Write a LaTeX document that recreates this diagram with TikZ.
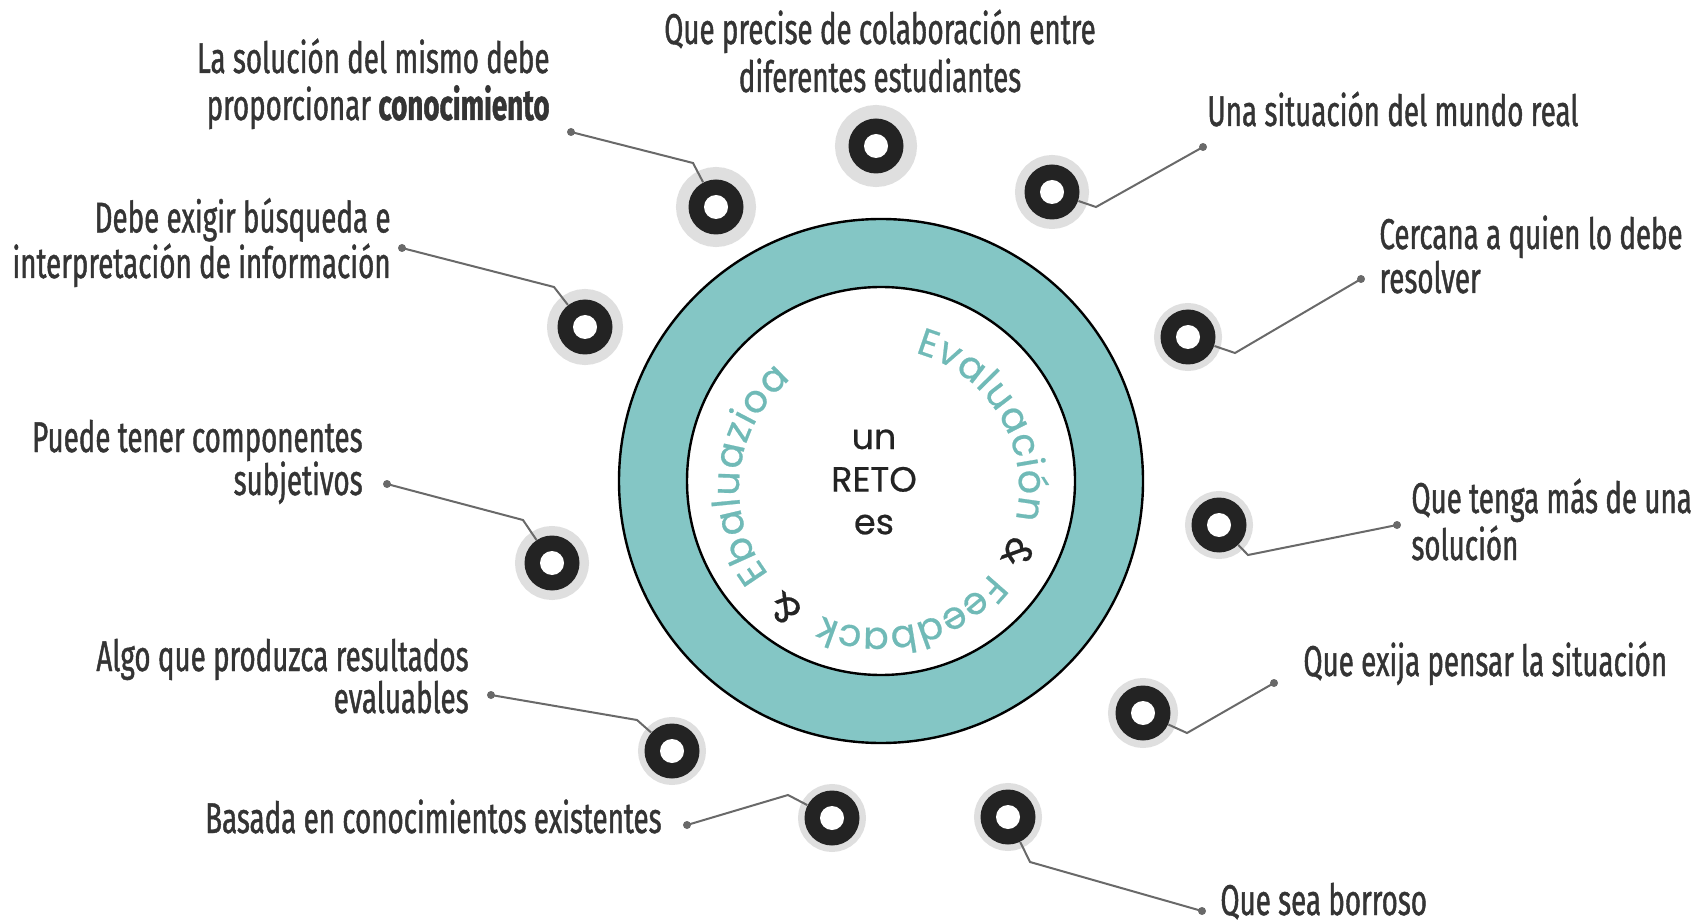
\documentclass[tikz,border=0pt]{standalone}
\usepackage{fontspec}
\setmainfont{Fira Sans}[FakeStretch=0.645, FakeBold=1]
\newfontfamily\retofont{Poppins}[FakeBold=0.6]
\usetikzlibrary{decorations.text}

\definecolor{ringteal}{RGB}{132,198,197}
\definecolor{arcteal}{RGB}{112,186,183}
\definecolor{halogray}{RGB}{223,223,223}
\definecolor{bulletdark}{RGB}{35,35,35}
\definecolor{wiregray}{RGB}{105,105,105}
\definecolor{labelgray}{RGB}{52,52,52}

\newcommand\arcfont{\retofont\fontsize{19}{22}\selectfont}

\tikzset{
  bullet/.style={circle, fill=bulletdark, minimum size=27.5pt, inner sep=0pt,
    preaction={draw=halogray, line width=#1},
    path picture={\fill[white] (path picture bounding box.center) circle (6pt);}},
  bullet/.default=6.5pt,
  wire/.style={wiregray, line width=1pt},
  lbl/.style={text=labelgray, inner sep=0pt, font=\fontsize{21.5}{#1}\selectfont},
  lbl/.default=22,
  arctext/.style={decorate, decoration={text along path, text={|\arcfont|#1},
    text align=fit to path, text color=arcteal}},
  arcamp/.style={decorate, decoration={text along path, text={|\arcfont|{\&}},
    text align=center, text color=bulletdark}}
}

\begin{document}
\begin{tikzpicture}[x=0.5pt, y=-0.5pt]
  \useasboundingbox (0,0) rectangle (1695,924);

  % ring
  \coordinate (c) at (881,481);
  \draw[line width=1.2pt, fill=ringteal] (c) circle (262);
  \draw[line width=1.2pt, fill=white] (c) circle (194);

  % text round the inner circle
  \begin{scope}[shift={(879,488)}, y=0.5pt]
    \path[arctext={Evaluación}] (75:140) arc[start angle=75, end angle=-13, radius=140];
    \path[arcamp] (-19:140) arc[start angle=-19, end angle=-31, radius=140];
    \path[arctext={Feedback}] (-37.5:140) arc[start angle=-37.5, end angle=-114, radius=140];
    \path[arcamp] (-122:140) arc[start angle=-122, end angle=-134, radius=140];
    \path[arctext={Ebaluazioa}] (218:140) arc[start angle=218, end angle=129, radius=140];
  \end{scope}

  \node[text=bulletdark, font=\retofont\fontsize{17.5}{21.3}\selectfont, align=center, inner sep=0pt] (reto) at (874,482) {un\\RETO\\es};

  % bullets
  \node[bullet=12.5pt] (b1) at (716,207) {};
  \node[bullet=13.5pt] (b2) at (876,146) {};
  \node[bullet=9.5pt] (b3) at (1052,192) {};
  \node[bullet=10.5pt] (b4) at (585,327) {};
  \node[bullet] (b5) at (1188,337) {};
  \node[bullet=9.5pt] (b6) at (552,563) {};
  \node[bullet] (b7) at (1219,525) {};
  \node[bullet] (b8) at (672,751) {};
  \node[bullet=7.5pt] (b9) at (1143,713) {};
  \node[bullet] (b10) at (832,818) {};
  \node[bullet] (b11) at (1008,817) {};

  % labels (base = last line)
  \node[lbl=23.5, anchor=base east, align=right] (t1) at (550,120) {La solución del mismo debe\\proporcionar \textbf{conocimiento}};
  \node[lbl=24, anchor=base, align=center] (t2) at (880,92) {Que precise de colaboración entre\\diferentes estudiantes};
  \node[lbl, anchor=base west] (t3) at (1207,126) {Una situación del mundo real};
  \node[lbl=20.5, anchor=base east, align=right] (t4) at (391,278) {Debe exigir búsqueda e\\interpretación de información};
  \node[lbl, anchor=base west, align=left] (t5) at (1379,293) {Cercana a quien lo debe\\resolver};
  \node[lbl=21.5, anchor=base east, align=right] (t6) at (363,495) {Puede tener componentes\\subjetivos};
  \node[lbl=23.5, anchor=base west, align=left] (t7) at (1411,560) {Que tenga más de una\\solución};
  \node[lbl=21, anchor=base east, align=right] (t8) at (469,713) {Algo que produzca resultados\\evaluables};
  \node[lbl, anchor=base west] (t9) at (1303,676) {Que exija pensar la situación};
  \node[lbl, anchor=base east] (t10) at (662,833) {Basada en conocimientos existentes};
  \node[lbl, anchor=base west] (t11) at (1220,915) {Que sea borroso};

  % connectors
  \coordinate (d1) at (571,132);  \coordinate (k1) at (693,163);
  \coordinate (d3) at (1203,147); \coordinate (k3) at (1096,207);
  \coordinate (d4) at (402,248);  \coordinate (k4) at (554,287);
  \coordinate (d5) at (1361,279); \coordinate (k5) at (1235,353);
  \coordinate (d6) at (387,484);  \coordinate (k6) at (523,520);
  \coordinate (d7) at (1397,525); \coordinate (k7) at (1248,555);
  \coordinate (d8) at (491,695);  \coordinate (k8) at (637,720);
  \coordinate (d9) at (1274,683); \coordinate (k9) at (1187,733);
  \coordinate (d10) at (687,825); \coordinate (k10) at (788,795);
  \coordinate (d11) at (1202,911); \coordinate (k11) at (1030,862);

  \draw[wire] (d1) -- (k1) -- (b1);
  \draw[wire] (d3) -- (k3) -- (b3);
  \draw[wire] (d4) -- (k4) -- (b4);
  \draw[wire] (d5) -- (k5) -- (b5);
  \draw[wire] (d6) -- (k6) -- (b6);
  \draw[wire] (d7) -- (k7) -- (b7);
  \draw[wire] (d8) -- (k8) -- (b8);
  \draw[wire] (d9) -- (k9) -- (b9);
  \draw[wire] (d10) -- (k10) -- (b10);
  \draw[wire] (d11) -- (k11) -- (b11);

  \fill[wiregray] (d1) circle (4) (d3) circle (4) (d4) circle (4) (d5) circle (4)
    (d6) circle (4) (d7) circle (4) (d8) circle (4) (d9) circle (4)
    (d10) circle (4) (d11) circle (4);
\end{tikzpicture}
\end{document}
